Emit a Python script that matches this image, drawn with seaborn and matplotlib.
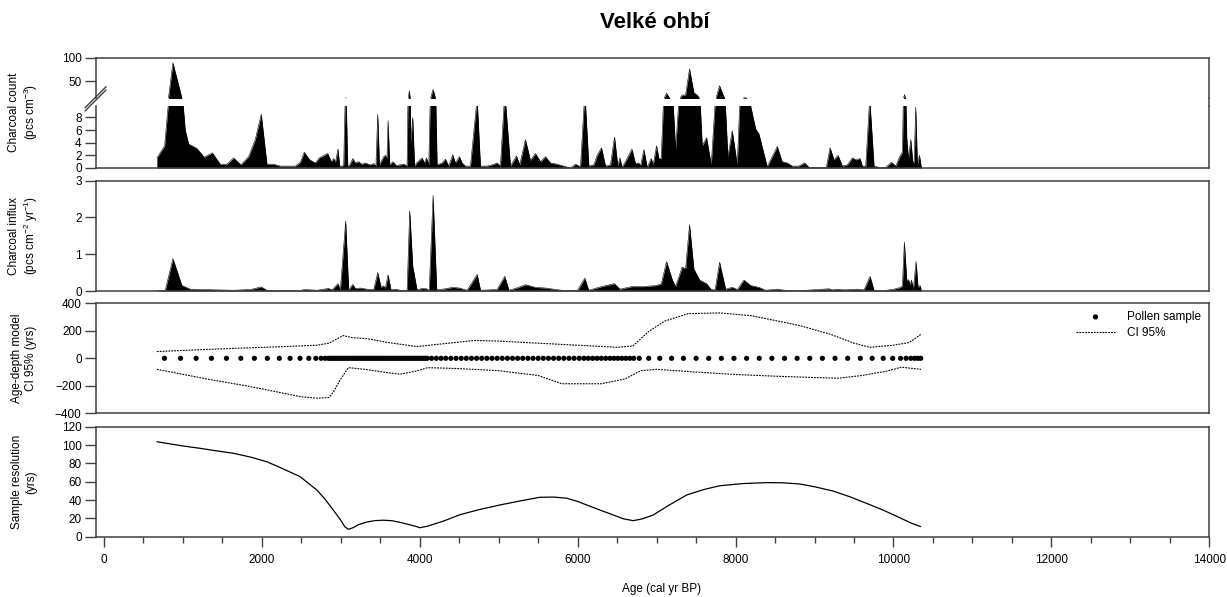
import numpy as np
import pandas as pd
import matplotlib
matplotlib.use("Agg")
import matplotlib.pyplot as plt
import seaborn as sns
from matplotlib.lines import Line2D
from matplotlib.ticker import MultipleLocator

# ---------------- data ----------------
count_age = [671, 769, 815, 874, 990, 1030, 1073, 1178, 1271, 1373, 1474, 1558, 1643, 1736, 1833, 1917, 1993,
             2065, 2150, 2234, 2424, 2488, 2538, 2606, 2678, 2728, 2834, 2880, 2910, 2931, 2965, 2986, 3016,
             3037, 3062, 3088, 3110, 3151, 3185, 3227, 3265, 3311, 3370, 3417, 3445, 3468, 3490, 3544, 3565,
             3585, 3599, 3620, 3660, 3700, 3750, 3800, 3840, 3869, 3885, 3911, 3935, 3960, 4030, 4060, 4085,
             4115, 4169, 4220, 4283, 4325, 4367, 4418, 4452, 4503, 4536, 4579, 4642, 4727, 4769, 4853, 4917,
             4980, 5022, 5077, 5149, 5225, 5267, 5339, 5402, 5466, 5529, 5593, 5656, 5740, 5825, 5909, 5973,
             6036, 6091, 6142, 6205, 6247, 6302, 6353, 6416, 6467, 6509, 6535, 6564, 6627, 6687, 6733, 6775,
             6796, 6839, 6881, 6932, 6957, 6999, 7029, 7058, 7092, 7126, 7170, 7210, 7240, 7290, 7324, 7367,
             7417, 7472, 7515, 7545, 7578, 7633, 7692, 7750, 7797, 7844, 7870, 7903, 7958, 8021, 8060, 8127,
             8170, 8254, 8296, 8401, 8528, 8590, 8655, 8718, 8800, 8875, 8930, 9077, 9150, 9197, 9247, 9298,
             9353, 9416, 9480, 9522, 9577, 9606, 9649, 9699, 9754, 9817, 9902, 9974, 10029, 10079, 10113,
             10139, 10168, 10189, 10219, 10244, 10261, 10282, 10303, 10329, 10354]
count_val = [1.6, 3.5, 10, 89, 12, 6, 3.8, 3.1, 1.7, 2.4, 0.6, 0.6, 1.6, 0.5, 1.8, 4.5, 8.5,
             0.6, 0.6, 0.3, 0.3, 0.9, 2.5, 1.3, 0.8, 1.6, 2.3, 1.0, 1.5, 0.8, 3.0, 0.3, 0.3,
             0.5, 14.5, 0.3, 0.4, 1.5, 0.8, 1.0, 0.6, 0.8, 0.5, 0.7, 0.3, 8.5, 0.5, 1.8, 2.0,
             1.5, 7.5, 0.5, 1.0, 0.4, 0.5, 0.6, 0.3, 29, 4, 8.0, 0.3, 0.8, 1.6, 0.8, 1.6,
             0.5, 32, 0.5, 0.8, 1.4, 0.3, 2.1, 0.8, 1.8, 0.8, 0.3, 0.3, 11, 0.3, 0.3, 0.5,
             0.8, 0.3, 12, 0.3, 1.9, 0.5, 4.5, 1.2, 2.3, 1.0, 1.8, 0.8, 0.6, 0.3, 0.0, 0.6,
             0.2, 12, 0.3, 0.5, 2.0, 3.2, 0.3, 0.5, 4.9, 0.3, 1.6, 0.1, 1.5, 3.0, 0.7, 0.8,
             0.3, 2.9, 0.1, 1.5, 0.5, 3.5, 1.5, 1.5, 12, 24, 12, 10, 3.0, 12, 20, 20,
             76, 25, 20, 12, 3.5, 4.8, 0.5, 12, 40, 20, 10, 1.8, 5.9, 0.5, 12, 14.5,
             11, 6.2, 5.4, 0.2, 3.4, 1.0, 0.8, 0.3, 0.3, 0.8, 0.1, 0.1, 0.1, 3.2, 1.3, 2.0,
             0.3, 0.5, 1.6, 1.3, 1.5, 0.3, 0.3, 11, 0.3, 0.1, 0.1, 0.9, 0.3, 1.8, 2.5,
             21, 4.8, 1.5, 4.5, 1.0, 0.8, 9.6, 0.5, 2.0, 0]

influx_age = [671, 777, 874, 988, 1094, 1430, 1643, 1855, 1993, 2065, 2488, 2538, 2700, 2846, 2889, 2965,
              2994, 3062, 3100, 3151, 3185, 3250, 3330, 3417, 3468, 3510, 3540, 3565, 3599, 3636, 3690,
              3755, 3840, 3873, 3911, 3966, 4030, 4085, 4120, 4169, 4215, 4325, 4418, 4503, 4600, 4727,
              4770, 4980, 5077, 5130, 5225, 5339, 5466, 5593, 5800, 6000, 6091, 6140, 6302, 6467, 6535,
              6687, 6839, 6999, 7060, 7126, 7200, 7240, 7324, 7367, 7417, 7472, 7545, 7633, 7692, 7741,
              7798, 7874, 7958, 8022, 8106, 8190, 8296, 8380, 8528, 8655, 8825, 9183, 9226, 9289, 9373,
              9542, 9627, 9703, 9754, 9880, 10007, 10092, 10113, 10138, 10168, 10193, 10210, 10227,
              10252, 10286, 10311, 10336, 10354]
influx_val = [0, 0.02, 0.88, 0.15, 0.05, 0.03, 0.02, 0.04, 0.11, 0.02, 0.01, 0.04, 0.02, 0.07, 0.03, 0.2,
              0.02, 1.9, 0.03, 0.18, 0.07, 0.08, 0.05, 0.04, 0.5, 0.1, 0.14, 0.08, 0.44, 0.03, 0.05,
              0.02, 0.01, 2.18, 0.68, 0.03, 0.07, 0.06, 0.02, 2.6, 0.03, 0.06, 0.1, 0.08, 0.02, 0.45,
              0.02, 0.04, 0.4, 0.02, 0.08, 0.17, 0.1, 0.08, 0.02, 0.02, 0.35, 0.02, 0.12, 0.2, 0.05,
              0.12, 0.12, 0.15, 0.2, 0.8, 0.3, 0.12, 0.65, 0.6, 1.8, 0.6, 0.3, 0.2, 0.04, 0.03,
              0.78, 0.05, 0.1, 0.04, 0.3, 0.15, 0.1, 0.02, 0.05, 0.01, 0.01, 0.06, 0.03, 0.05, 0.03,
              0.05, 0.03, 0.4, 0.02, 0.01, 0.05, 0.1, 0.15, 1.33, 0.3, 0.3, 0.15, 0.3,
              0.05, 0.8, 0.1, 0.15, 0]

pollen_age = [767, 970, 1168, 1362, 1552, 1734, 1906, 2070, 2222, 2358, 2484, 2595, 2684, 2751, 2802,
              2844, 2873, 2898, 2920, 2945, 2970, 2995, 3020, 3045, 3070, 3095, 3120, 3145, 3170, 3195,
              3220, 3245, 3270, 3295, 3320, 3345, 3370, 3395, 3420, 3445, 3470, 3495, 3520, 3545, 3570,
              3595, 3620, 3645, 3670, 3695, 3720, 3745, 3770, 3795, 3820, 3845, 3870, 3895, 3920, 3945,
              3970, 3995, 4020, 4045, 4070, 4095, 4150, 4210, 4270, 4330, 4395, 4460, 4525, 4590, 4655,
              4720, 4785, 4850, 4915, 4980, 5045, 5110, 5175, 5240, 5305, 5370, 5435, 5500, 5565, 5630,
              5695, 5760, 5825, 5890, 5955, 6020, 6080, 6135, 6190, 6245, 6300, 6355, 6410, 6460, 6510,
              6560, 6610, 6660, 6710, 6780, 6900, 7040, 7190, 7340, 7500, 7660, 7820, 7980, 8140, 8300,
              8460, 8620, 8780, 8940, 9100, 9260, 9420, 9580, 9730, 9870, 9990, 10090, 10160, 10220,
              10270, 10310, 10345]
pollen_offset = [0] * len(pollen_age)

ci_up_age = [671, 1200, 1641, 2275, 2696, 2850, 3030, 3150, 3329, 3600, 3962, 4200, 4700, 5000, 5500,
             6000, 6500, 6700, 6900, 7100, 7400, 7800, 8200, 8800, 9200, 9500, 9700, 10000, 10200, 10350]
ci_up_val = [49, 62, 72, 85, 95, 110, 165, 150, 143, 115, 85, 100, 130, 125, 110,
             95, 80, 90, 195, 270, 325, 330, 310, 240, 175, 110, 80, 95, 115, 175]
ci_lo_age = [671, 1300, 1800, 2200, 2500, 2700, 2850, 2906, 3000, 3096, 3300, 3600, 3750, 3962, 4100,
             4500, 5000, 5500, 5800, 6300, 6600, 6800, 7000, 7500, 8000, 8500, 9000, 9300, 9600, 9900,
             10100, 10350]
ci_lo_val = [-80, -150, -200, -245, -280, -290, -285, -245, -150, -68, -80, -105, -116, -92, -68,
             -75, -90, -125, -185, -185, -150, -90, -80, -100, -118, -130, -140, -145, -125, -95,
             -65, -80]

res_age = [671, 1000, 1219, 1400, 1641, 1850, 2063, 2270, 2485, 2696, 2800, 2906, 3000, 3050, 3096, 3160,
           3220, 3329, 3430, 3540, 3650, 3750, 3850, 3962, 4003, 4100, 4300, 4510, 4750, 5016, 5270,
           5522, 5700, 5860, 6000, 6114, 6300, 6451, 6580, 6704, 6820, 6957, 7150, 7380, 7600, 7801,
           8100, 8392, 8600, 8814, 9000, 9235, 9450, 9658, 9870, 10080, 10220, 10345]
res_val = [103.6, 99, 96.4, 94, 91, 87, 81.8, 74, 65.5, 51, 41, 29, 18, 11, 8, 10,
           13, 16, 17.5, 18, 17.4, 15.7, 13.5, 11, 9.8, 11.5, 17, 24, 29.5, 34.6, 39,
           43, 43.2, 42, 38.5, 34.6, 28.5, 23.7, 19.5, 17.5, 19.5, 23.7, 34, 45.5, 51.5, 55.6,
           58, 59, 58.8, 57.5, 54.5, 49.8, 43.5, 36.4, 29, 20.7, 15, 11]

# ---------------- style ----------------
sns.set_theme(style="ticks")
plt.rcParams["font.family"] = ["Liberation Sans", "DejaVu Sans"]
plt.rcParams["mathtext.default"] = "regular"
plt.rcParams["text.color"] = "black"
plt.rcParams["axes.labelcolor"] = "black"
plt.rcParams["xtick.color"] = "black"
plt.rcParams["ytick.color"] = "black"

SPINE = "#404040"
FS = 8.5
FIG_W, FIG_H = 1227, 597

fig = plt.figure(figsize=(FIG_W / 100, FIG_H / 100), dpi=100)
X0, X1 = 96, 1209.3


def box(top, bottom):
    return [X0 / FIG_W, 1 - bottom / FIG_H, (X1 - X0) / FIG_W, (bottom - top) / FIG_H]


ax1u = fig.add_axes(box(57.7, 97.7))
ax1l = fig.add_axes(box(106, 168))
ax2 = fig.add_axes(box(180.7, 291))
ax3 = fig.add_axes(box(303.3, 413.3))
ax4 = fig.add_axes(box(426.7, 536.7))
axes = [ax1u, ax1l, ax2, ax3, ax4]

for ax in axes:
    ax.set_xlim(-100, 14000)
    for s in ax.spines.values():
        s.set_color(SPINE)
        s.set_linewidth(1.1)
    ax.tick_params(axis="y", direction="out", length=7.9, width=1.0, color=SPINE,
                   labelsize=FS, pad=2.4, labelcolor="black")
    ax.set_facecolor("white")
    if ax is not ax4:
        ax.set_xticks([])

# Panel 1 – charcoal count (broken axis)
count_df = pd.DataFrame({"age": count_age, "count": count_val})
for ax in (ax1u, ax1l):
    ax.fill_between(count_df["age"], 0, count_df["count"], color="black", lw=0)
    sns.lineplot(data=count_df, x="age", y="count", ax=ax, color="black", lw=0.4)
    ax.set_xlabel("")
    ax.set_ylabel("")
ax1u.set_ylim(14.3, 100)
ax1u.set_yticks([50, 100])
ax1u.spines["bottom"].set_visible(False)
ax1l.set_ylim(0, 9.8)
ax1l.set_yticks([0, 2, 4, 6, 8])
ax1l.spines["top"].set_visible(False)
ax1l.set_ylabel("Charcoal count\n(pcs cm$^{-3}$)", fontsize=FS, va="center")
ax1l.yaxis.set_label_coords((24 - X0) / (X1 - X0), (168 - 112) / 62)

# break marks and continuous right spine
for dy in (0, -3.2):
    fig.add_artist(Line2D([85 / FIG_W, 106 / FIG_W],
                          [1 - (111 + dy) / FIG_H, 1 - (90 + dy) / FIG_H],
                          color=SPINE, lw=1.0, transform=fig.transFigure))
fig.add_artist(Line2D([X1 / FIG_W, X1 / FIG_W], [1 - 97.7 / FIG_H, 1 - 106 / FIG_H],
                      color=SPINE, lw=1.1, transform=fig.transFigure))

# Panel 2 – influx
influx_df = pd.DataFrame({"age": influx_age, "influx": influx_val})
ax2.fill_between(influx_df["age"], 0, influx_df["influx"], color="black", lw=0)
sns.lineplot(data=influx_df, x="age", y="influx", ax=ax2, color="black", lw=0.4)
ax2.set_ylim(0, 3)
ax2.set_yticks([0, 1, 2, 3])
ax2.set_xlabel("")
ax2.set_ylabel("Charcoal influx\n(pcs cm$^{-2}$ yr$^{-1}$)", fontsize=FS, va="center")
ax2.yaxis.set_label_coords((24 - X0) / (X1 - X0), 0.5)

# Panel 3 – age-depth model CI
sns.lineplot(x=ci_up_age, y=ci_up_val, ax=ax3, color="black", lw=0.8,
             linestyle=(0, (1.6, 1.0)), label="CI 95%")
sns.lineplot(x=ci_lo_age, y=ci_lo_val, ax=ax3, color="black", lw=0.8,
             linestyle=(0, (1.6, 1.0)))
sns.scatterplot(x=pollen_age, y=pollen_offset, ax=ax3, color="black", s=14,
                edgecolor="none", label="Pollen sample", zorder=3)
ax3.set_ylim(-400, 400)
ax3.set_yticks([-400, -200, 0, 200, 400])
ax3.set_ylabel("Age-depth model\nCI 95% (yrs)", fontsize=FS, va="center")
ax3.yaxis.set_label_coords((24 - X0) / (X1 - X0), 0.5)
h, l = ax3.get_legend_handles_labels()
order = [l.index("Pollen sample"), l.index("CI 95%")]
ax3.legend([h[i] for i in order], [l[i] for i in order], loc="upper left",
           bbox_to_anchor=((1076 - X0) / (X1 - X0), 0.93), frameon=False, fontsize=FS,
           borderpad=0, borderaxespad=0, handlelength=3.3, handletextpad=1.0,
           labelspacing=0.35, markerscale=1.0, labelcolor="black")

# Panel 4 – sample resolution
sns.lineplot(x=res_age, y=res_val, ax=ax4, color="black", lw=0.9)
ax4.set_ylim(0, 120)
ax4.set_yticks([0, 20, 40, 60, 80, 100, 120])
ax4.set_ylabel("Sample resolution\n(yrs)", fontsize=FS, va="center")
ax4.yaxis.set_label_coords((24 - X0) / (X1 - X0), 0.5)
ax4.set_xticks(list(range(0, 14001, 2000)))
ax4.xaxis.set_minor_locator(MultipleLocator(500))
ax4.tick_params(axis="x", which="major", direction="out", length=7.2, width=1.0,
                color=SPINE, labelsize=FS, pad=5, labelcolor="black")
ax4.tick_params(axis="x", which="minor", direction="out", length=4.3, width=1.0, color=SPINE)
ax4.set_xlabel("Age (cal yr BP)", fontsize=FS, va="center")
ax4.xaxis.set_label_coords((661.7 - X0) / (X1 - X0), (536.7 - 589) / 110)

fig.text(655 / FIG_W, 1 - 22 / FIG_H, "Velké ohbí", ha="center", va="center",
         fontsize=16, fontweight="bold", color="black")

fig.savefig("out.png", dpi=100, facecolor="white")
